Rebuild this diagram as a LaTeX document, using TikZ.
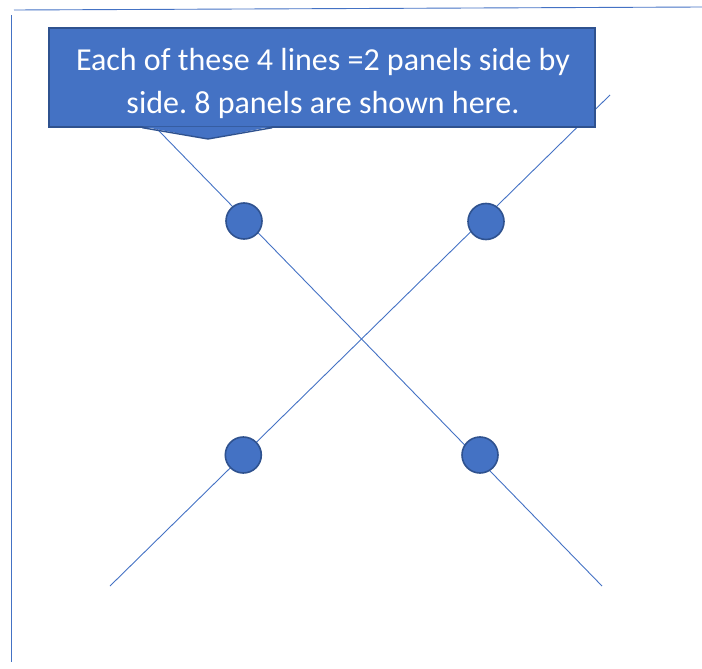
\documentclass[tikz,border=0pt]{standalone}
\usepackage{fontspec}
\setmainfont{Carlito}
\usetikzlibrary{positioning}

\definecolor{officeblue}{HTML}{4472C4}
\definecolor{edgeblue}{HTML}{2F528F}

\begin{document}
\frenchspacing
\begin{tikzpicture}
    [
      x=1pt,y=-1pt,
      panel/.style={minimum size=36pt,inner sep=0pt,circle,draw=edgeblue,line width=1.6pt,fill=officeblue},
      strut/.style={draw=officeblue,line width=0.9pt},
      frame/.style={draw=officeblue,line width=0.9pt},
      note/.style={minimum width=546pt,minimum height=99pt,inner sep=0pt,draw=edgeblue,line width=1.4pt,fill=officeblue},
      notetext/.style={text=white,align=center,font=\fontsize{32}{43}\selectfont},
    ]

    \useasboundingbox (0,0) rectangle (702,669);

    % page edges
    \coordinate (top-left) at (14,10);
    \coordinate (top-right) at (702,7);
    \coordinate (side-top) at (11,15);
    \coordinate (side-bottom) at (11,662);
    \path
    (top-left) edge [frame] (top-right)
    (side-top) edge [frame] (side-bottom)
    ;

    % the two crossing lines
    \coordinate (fall-start) at (150,121.7);
    \coordinate (fall-end) at (602,586);
    \coordinate (rise-start) at (110,586);
    \coordinate (rise-end) at (610,95);
    \path
    (fall-start) edge [strut] (fall-end)
    (rise-start) edge [strut] (rise-end)
    ;

    % panels
    \node (panel-tl) [panel] at (244,221) {};
    \node (panel-tr) [panel] at (486,221.5) {};
    \node (panel-bl) [panel] at (243.3,455) {};
    \node (panel-br) [panel] at (480,455) {};

    % callout
    \node (note) [note] at (322,77.5) {};
    \coordinate (pointer) at (208,139);
    \fill [officeblue] ([xshift=94pt,yshift=1.2pt]note.south west) -- (pointer)
      -- ([xshift=224pt,yshift=1.2pt]note.south west) -- cycle;
    \draw [edgeblue,line width=1.4pt,line join=miter] ([xshift=94pt]note.south west) -- (pointer)
      -- ([xshift=224pt]note.south west);
    \node (note-text) [notetext] at (323,83) {Each of these 4 lines =2 panels side by\\side. 8 panels are shown here.};

  \end{tikzpicture}
\end{document}
